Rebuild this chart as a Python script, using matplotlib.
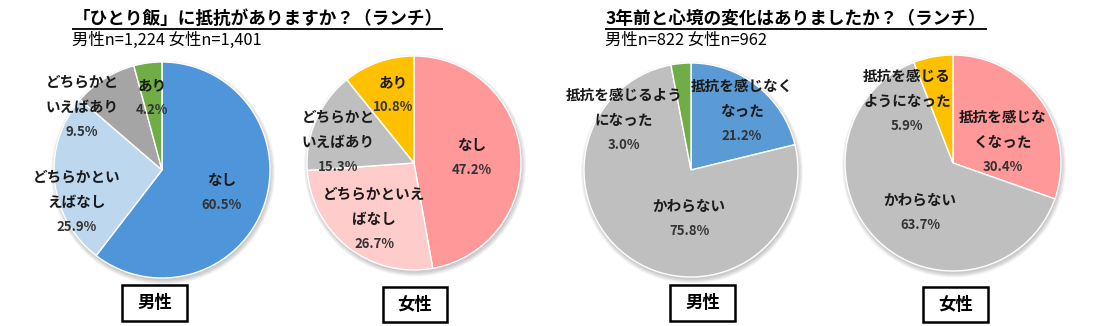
import matplotlib
matplotlib.use("Agg")
import matplotlib.pyplot as plt
from matplotlib.patches import Circle, Rectangle

plt.rcParams['font.family'] = ['Noto Sans CJK JP', 'DejaVu Sans']

# ---- data ----
lunch_title = "「ひとり飯」に抵抗がありますか？（ランチ）"
lunch_sub = "男性n=1,224 女性n=1,401"
lunch_cats_m = ["なし", "どちらかとい\nえばなし", "どちらかと\nいえばあり", "あり"]
lunch_vals_m = [60.5, 25.9, 9.5, 4.2]
lunch_cats_f = ["なし", "どちらかといえ\nばなし", "どちらかと\nいえばあり", "あり"]
lunch_vals_f = [47.2, 26.7, 15.3, 10.8]

change_title = "3年前と心境の変化はありましたか？（ランチ）"
change_sub = "男性n=822 女性n=962"
change_cats_m = ["抵抗を感じなく\nなった", "かわらない", "抵抗を感じるよう\nになった"]
change_vals_m = [21.2, 75.8, 3.0]
change_cats_f = ["抵抗を感じな\nくなった", "かわらない", "抵抗を感じる\nようになった"]
change_vals_f = [30.4, 63.7, 5.9]

gender_labels = ["男性", "女性", "男性", "女性"]

# ---- styling / layout (pixel coordinates, y measured from top) ----
W, H = 1118, 326
cols_m1 = ["#4F95DA", "#BDD7EE", "#A5A5A5", "#70AD47"]
cols_f1 = ["#FF9999", "#FFCCCC", "#BFBFBF", "#FFC000"]
cols_m2 = ["#5B9BD5", "#BFBFBF", "#70AD47"]
cols_f2 = ["#FF9999", "#BFBFBF", "#FFC000"]

pies = [
    dict(vals=lunch_vals_m, cats=lunch_cats_m, cols=cols_m1, c=(162, 170), r=108,
         lab=[(222, 180), (77, 177), (82, 82), (152, 85)]),
    dict(vals=lunch_vals_f, cats=lunch_cats_f, cols=cols_f1, c=(414, 163), r=107,
         lab=[(472, 145), (374, 194), (338, 117), (393, 82)]),
    dict(vals=change_vals_m, cats=change_cats_m, cols=cols_m2, c=(691, 170), r=107,
         lab=[(742, 86), (689, 206), (624, 95)]),
    dict(vals=change_vals_f, cats=change_cats_f, cols=cols_f2, c=(953, 163), r=108,
         lab=[(1003, 117), (920, 200), (907, 76)]),
]
boxes = [(122, 285, 65, 36), (383, 287, 64, 35), (670, 285, 65, 36), (923, 287, 65, 35)]

fig = plt.figure(figsize=(W / 100, H / 100), dpi=100)
ax = fig.add_axes([0, 0, 1, 1])


def Y(y):
    return H - y


LINE = 25
for p in pies:
    cx, cy = p["c"]
    # soft drop shadow below the pie
    for k in range(6):
        ax.add_patch(Circle((cx + 1, Y(cy) - 2.5), p["r"] + 0.8 * k,
                            facecolor="#000000", alpha=0.035, linewidth=0, zorder=0))
    ax.pie(p["vals"], colors=p["cols"], startangle=90, counterclock=False,
           center=(cx, Y(cy)), radius=p["r"],
           wedgeprops=dict(edgecolor="white", linewidth=1.0))
    for cat, val, (lx, ly) in zip(p["cats"], p["vals"], p["lab"]):
        lines = cat.split("\n")
        for i, ln in enumerate(lines):
            ax.text(lx, Y(ly + i * LINE), ln, ha="center", va="center",
                    fontsize=10.5, fontweight="bold", color="#1a1a1a", zorder=5)
        ax.text(lx, Y(ly + len(lines) * LINE), f"{val:.1f}%", ha="center", va="center",
                fontsize=9.5, fontweight="bold", color="#333333", zorder=5)

# titles with underline and sample sizes
for tx, title, sub, x_end in [(72, lunch_title, lunch_sub, 443), (605, change_title, change_sub, 987)]:
    ax.text(tx + 1, Y(19), title, ha="left", va="center", fontsize=12.7,
            fontweight="bold", color="#000000")
    ax.plot([tx, x_end], [Y(28.5), Y(28.5)], color="#000000", linewidth=1.3,
            solid_capstyle="butt")
    ax.text(tx, Y(40), sub, ha="left", va="center", fontsize=11.8, color="#000000")

# gender boxes
for (bx, by, bw, bh), g in zip(boxes, gender_labels):
    ax.add_patch(Rectangle((bx, Y(by + bh)), bw, bh, facecolor="white",
                           edgecolor="#000000", linewidth=1.8, zorder=4))
    ax.text(bx + bw / 2, Y(by + bh / 2), g, ha="center", va="center",
            fontsize=12.5, fontweight="bold", color="#000000", zorder=5)

ax.set_xlim(0, W)
ax.set_ylim(0, H)
ax.set_aspect("auto")
ax.set_axis_off()

fig.savefig("out.png", dpi=100, facecolor="white")
